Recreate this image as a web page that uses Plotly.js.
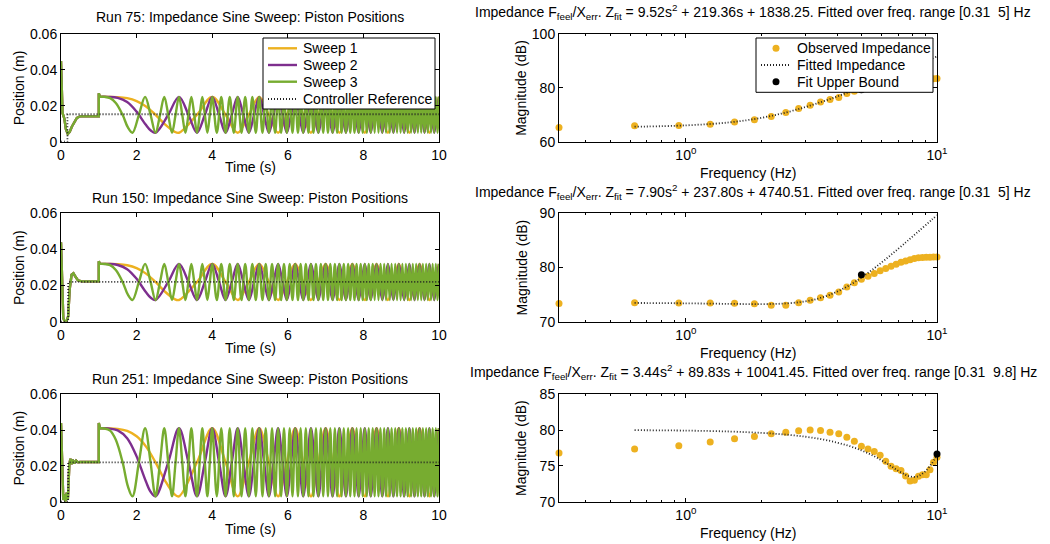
<!DOCTYPE html>
<html><head><meta charset="utf-8">
<script src="https://cdn.plot.ly/plotly-3.0.1.min.js"></script>
<style>html,body{margin:0;padding:0;background:#fff}#chart{width:1050px;height:544px}</style>
</head><body><div id="chart"></div>
<script>
// ---------------- DATA ----------------
const runNames = ['Run 75', 'Run 150', 'Run 251'];
const sweepNames = ['Sweep 1', 'Sweep 2', 'Sweep 3'];
const refName = 'Controller Reference';
const impNames = ['Observed Impedance', 'Fitted Impedance', 'Fit Upper Bound'];
const timeTicks = [0, 2, 4, 6, 8, 10];
const posTicks = [0, 0.02, 0.04, 0.06];
const posTickText = ['0', '0.02', '0.04', '0.06'];

// extremum times of each sweep (alternating peak / trough, starting at a peak)
const sweep1ExtT = [1.03, 3.121, 4.0, 4.674, 5.243, 5.743, 6.196, 6.612, 7.0, 7.364, 7.708, 8.036, 8.348, 8.649, 8.937, 9.216, 9.485, 9.746, 10.0];
// mid-level crossing times
const sweep1CrossT = [2.5, 3.598, 4.354, 4.969, 5.5, 5.975, 6.408, 6.809, 7.185, 7.538, 7.874, 8.194, 8.5, 8.794, 9.078, 9.352, 9.617, 9.874];
// extra points on the slow first half-cycle: time and level (+1 peak, -1 trough)
const sweep1EarlyT = [1.25, 1.5, 1.75, 2.0, 2.25, 2.75, 3.0];
const sweep1EarlyF = [0.999, 0.985, 0.924, 0.766, 0.462, -0.535, -0.94];

const sweep2ExtT = [1.03, 2.5, 3.121, 3.598, 4.0, 4.354, 4.674, 4.969, 5.243, 5.5, 5.743, 5.975, 6.196, 6.408, 6.612, 6.809, 7.0, 7.185, 7.364, 7.538, 7.708, 7.874, 8.036, 8.194, 8.348, 8.5, 8.649, 8.794, 8.937, 9.078, 9.216, 9.352, 9.485, 9.617, 9.746, 9.874, 10.0];
const sweep2CrossT = [2.061, 2.837, 3.372, 3.806, 4.182, 4.518, 4.824, 5.108, 5.373, 5.623, 5.861, 6.087, 6.303, 6.511, 6.712, 6.906, 7.093, 7.275, 7.452, 7.624, 7.792, 7.955, 8.115, 8.272, 8.425, 8.575, 8.722, 8.866, 9.008, 9.147, 9.284, 9.419, 9.551, 9.682, 9.811, 9.937];
const sweep2EarlyT = [1.25, 1.5, 1.75, 2.0, 2.25, 2.375];
const sweep2EarlyF = [0.996, 0.94, 0.707, 0.175, -0.573, -0.875];

const sweep3ExtT = [1.03, 1.89, 2.225, 2.5, 2.732, 2.937, 3.121, 3.291, 3.449, 3.598, 3.739, 3.872, 4.0, 4.122, 4.24, 4.354, 4.464, 4.571, 4.674, 4.775, 4.873, 4.969, 5.062, 5.153, 5.243, 5.33, 5.416, 5.5, 5.583, 5.664, 5.743, 5.822, 5.899, 5.975, 6.05, 6.124, 6.196, 6.268, 6.339, 6.408, 6.477, 6.545, 6.612, 6.679, 6.745, 6.809, 6.874, 6.937, 7.0, 7.062, 7.124, 7.185, 7.245, 7.305, 7.364, 7.423, 7.481, 7.538, 7.596, 7.652, 7.708, 7.764, 7.819, 7.874, 7.928, 7.982, 8.036, 8.089, 8.141, 8.194, 8.246, 8.297, 8.348, 8.399, 8.45, 8.5, 8.55, 8.599, 8.649, 8.697, 8.746, 8.794, 8.842, 8.89, 8.937, 8.984, 9.031, 9.078, 9.124, 9.17, 9.216, 9.261, 9.307, 9.352, 9.396, 9.441, 9.485, 9.529, 9.573, 9.617, 9.66, 9.703, 9.746, 9.789, 9.832, 9.874, 9.916, 9.958, 10.0];
const sweep3CrossT = [1.63, 2.061, 2.369, 2.62, 2.837, 3.031, 3.208, 3.372, 3.525, 3.669, 3.806, 3.937];
const sweep3EarlyT = [1.15, 1.3, 1.45, 1.77];
const sweep3EarlyF = [0.996, 0.93, 0.661, -0.707];

// sweep levels per run
const sweepPeak = [0.025, 0.032, 0.041];
const sweepTrough = [0.005, 0.012, 0.003];

// start-up transients (shared by the three sweeps of a run)
const run75TransT = [0, 0.02, 0.04, 0.09, 0.13, 0.18, 0.23, 0.29, 0.35, 0.42, 0.5, 1.0, 1.0, 1.03];
const run75TransY = [0.045, 0.03, 0.016, 0.0128, 0.007, 0.0043, 0.0055, 0.0085, 0.011, 0.0133, 0.0141, 0.0141, 0.027, 0.025];
const run150TransT = [0, 0.03, 0.06, 0.1, 0.15, 0.19, 0.23, 0.28, 0.33, 0.38, 0.45, 0.55, 1.0, 1.0, 1.03];
const run150TransY = [0.044, 0.025, 0.002, 0.0, 0.0005, 0.003, 0.018, 0.026, 0.0268, 0.025, 0.0228, 0.0223, 0.0223, 0.0335, 0.032];
const run251TransT = [0, 0.03, 0.06, 0.09, 0.12, 0.15, 0.18, 0.2, 0.22, 0.25, 0.28, 0.31, 0.35, 0.4, 0.45, 0.5, 1.0, 1.0, 1.03];
const run251TransY = [0.044, 0.02, 0.001, 0.004, 0.0, 0.005, 0.001, 0.01, 0.021, 0.024, 0.021, 0.0235, 0.0215, 0.023, 0.022, 0.0222, 0.0222, 0.044, 0.041];

// controller reference
const run75RefT = [0, 0.17, 0.17, 10];
const run75RefY = [0, 0, 0.0153, 0.0153];
const run150RefT = [0, 0.19, 0.19, 10];
const run150RefY = [0, 0, 0.022, 0.022];
const run251RefT = [0, 0.19, 0.19, 10];
const run251RefY = [0, 0, 0.022, 0.022];

// impedance
const freqHz = [0.3125, 0.625, 0.9375, 1.25, 1.5625, 1.875, 2.1875, 2.5, 2.8125, 3.125, 3.4375, 3.75, 4.0625, 4.375, 4.6875, 5, 5.3125, 5.625, 5.9375, 6.25, 6.5625, 6.875, 7.1875, 7.5, 7.8125, 8.125, 8.4375, 8.75, 9.0625, 9.375, 9.6875, 10];
const obs75 = [65.27, 65.9, 66.0, 66.5, 67.3, 68.15, 69.4, 70.8, 72.3, 73.5, 74.7, 75.7, 76.4, 77.9, 78.7, 79.4, 80.0, 80.5, 81.0, 81.4, 81.7, 82.0, 82.3, 82.5, 82.7, 82.9, 83.0, 83.1, 83.2, 83.3, 83.4, 83.45];
const obs150 = [73.35, 73.5, 73.45, 73.45, 73.4, 73.3, 73.05, 73.05, 73.5, 73.95, 74.4, 74.9, 75.5, 76.4, 77.2, 77.85, 78.4, 78.9, 79.4, 79.8, 80.25, 80.6, 80.95, 81.2, 81.45, 81.65, 81.8, 81.85, 81.9, 81.9, 81.92, 81.95];
const obs251 = [76.8, 77.35, 77.8, 78.35, 78.8, 79.1, 79.5, 79.7, 79.9, 80.0, 79.95, 79.7, 79.5, 79.0, 78.45, 77.75, 77.35, 77.0, 76.5, 75.65, 74.95, 74.6, 74.35, 73.6, 72.9, 73.0, 73.55, 73.75, 73.75, 74.45, 75.5, 76.2];
const fitFreqHz = [0.625, 1, 1.5, 2, 2.5, 3, 3.5, 4, 4.5, 5, 5.5, 6, 6.5, 7, 7.5, 7.75, 8, 8.25, 8.5, 9, 9.5, 10];
const fit75 = [65.57, 66.06, 67.21, 68.87, 70.84, 72.90, 74.90, 76.80, 78.56, 80.20, 81.71, 83.12, 84.43, 85.66, 86.81, 87.36, 87.89, 88.41, 88.91, 89.88, 90.79, 91.67];
const fit150 = [73.46, 73.39, 73.29, 73.25, 73.37, 73.77, 74.50, 75.54, 76.78, 78.14, 79.52, 80.88, 82.19, 83.43, 84.62, 85.18, 85.73, 86.27, 86.79, 87.80, 88.75, 89.65];
const fit251 = [79.99, 79.93, 79.80, 79.61, 79.37, 79.07, 78.70, 78.26, 77.75, 77.17, 76.52, 75.80, 75.05, 74.33, 73.75, 73.56, 73.47, 73.49, 73.63, 74.27, 75.27, 76.47];
const upperBoundHz = [5, 5, 10];
const upperBoundDb = [79.3, 78.65, 76.65];
const impTitles = [
  'Impedance F<sub>feel</sub>/X<sub>err</sub>. Z<sub>fit</sub> = 9.52s<sup>2</sup> + 219.36s + 1838.25. Fitted over freq. range [0.31&nbsp; 5] Hz',
  'Impedance F<sub>feel</sub>/X<sub>err</sub>. Z<sub>fit</sub> = 7.90s<sup>2</sup> + 237.80s + 4740.51. Fitted over freq. range [0.31&nbsp; 5] Hz',
  'Impedance F<sub>feel</sub>/X<sub>err</sub>. Z<sub>fit</sub> = 3.44s<sup>2</sup> + 89.83s + 10041.45. Fitted over freq. range [0.31&nbsp; 9.8] Hz'
];
const freqTicks = [1, 10];
const freqTickText = ['10<sup>0</sup>', '10<sup>1</sup>'];
const freqMinorTicks = [0.4, 0.5, 0.6, 0.7, 0.8, 0.9, 2, 3, 4, 5, 6, 7, 8, 9];
const magTicks = [[60, 80, 100], [70, 80, 90], [70, 75, 80, 85]];
const magRanges = [[60, 100], [70, 90], [70, 85]];

// ---------------- STYLE / LAYOUT ----------------
const W = 1050, H = 544;
const FONT = 'Liberation Sans, Arial, Helvetica, sans-serif';
const sweepColors = ['#EDB120', '#7E2F8E', '#77AC30'];
const sweepWidth = 2.4;
const dotColor = '#EDB120';
const dotLine = { color: '#222', width: 1.8, dash: '1px,2px' };
const rowsPx = [[34, 141.7], [213.3, 321.7], [394.3, 501.7]];
const leftPx = [61, 439], rightPx = [559, 937];
const py = p => 1 - p / H;
const px = p => p / W;

const sweepExt = [sweep1ExtT, sweep2ExtT, sweep3ExtT];
const sweepCross = [sweep1CrossT, sweep2CrossT, sweep3CrossT];
const sweepEarlyT = [sweep1EarlyT, sweep2EarlyT, sweep3EarlyT];
const sweepEarlyF = [sweep1EarlyF, sweep2EarlyF, sweep3EarlyF];
const transT = [run75TransT, run150TransT, run251TransT];
const transY = [run75TransY, run150TransY, run251TransY];
const refT = [run75RefT, run150RefT, run251RefT];
const refY = [run75RefY, run150RefY, run251RefY];
const obs = [obs75, obs150, obs251];
const fits = [fit75, fit150, fit251];

function sweepPoints(s, r) {
  const mid = (sweepPeak[r] + sweepTrough[r]) / 2, amp = (sweepPeak[r] - sweepTrough[r]) / 2;
  const pts = sweepExt[s].map((t, i) => [t, i % 2 === 0 ? 1 : -1])
    .concat(sweepCross[s].map(t => [t, 0]))
    .concat(sweepEarlyT[s].map((t, i) => [t, sweepEarlyF[s][i]]));
  pts.sort((a, b) => a[0] - b[0]);
  return { x: pts.map(p => p[0]), y: pts.map(p => mid + p[1] * amp) };
}

const traces = [];
const layout = {
  width: W, height: H, margin: { l: 0, r: 0, t: 0, b: 0 },
  paper_bgcolor: '#fff', plot_bgcolor: '#fff',
  font: { family: FONT, size: 14, color: '#000' },
  showlegend: false,
  annotations: [], shapes: []
};
const axBase = { showline: true, linecolor: '#000', linewidth: 1, mirror: 'ticks', ticks: 'inside', ticklen: 4,
  tickcolor: '#000', tickwidth: 1, showgrid: false, zeroline: false, fixedrange: true,
  tickfont: { family: FONT, size: 14, color: '#000' } };
const ann = layout.annotations, shp = layout.shapes;

for (let r = 0; r < 3; r++) {
  const lx = 'x' + (2 * r + 1), ly = 'y' + (2 * r + 1);
  const rx = 'x' + (2 * r + 2), ry = 'y' + (2 * r + 2);
  const lxk = r === 0 ? 'xaxis' : 'xaxis' + (2 * r + 1);
  const lyk = r === 0 ? 'yaxis' : 'yaxis' + (2 * r + 1);
  const rxk = 'xaxis' + (2 * r + 2), ryk = 'yaxis' + (2 * r + 2);
  const xa = r === 0 ? 'x' : lx, ya = r === 0 ? 'y' : ly;
  const yDom = [py(rowsPx[r][1]), py(rowsPx[r][0])];

  layout[lxk] = Object.assign({}, axBase, { domain: [px(leftPx[0]), px(leftPx[1])], range: [0, 10], tickvals: timeTicks, ticktext: timeTicks.map(String), anchor: ya });
  layout[lyk] = Object.assign({}, axBase, { domain: yDom, range: [0, 0.06], tickvals: posTicks, ticktext: posTickText, anchor: xa });
  layout[rxk] = Object.assign({}, axBase, { domain: [px(rightPx[0]), px(rightPx[1])], type: 'log', range: [Math.log10(freqHz[0]), 1],
    tickvals: freqTicks, ticktext: freqTickText, anchor: ry,
    minor: { tickmode: 'array', tickvals: freqMinorTicks, ticks: 'inside', ticklen: 2, tickcolor: '#000', showgrid: false } });
  layout[ryk] = Object.assign({}, axBase, { domain: yDom, range: magRanges[r], tickvals: magTicks[r], ticktext: magTicks[r].map(String), anchor: rx });

  for (let s = 0; s < 3; s++) {
    traces.push({ x: transT[r], y: transY[r], xaxis: xa, yaxis: ya, mode: 'lines', type: 'scatter',
      line: { color: sweepColors[s], width: sweepWidth }, name: sweepNames[s], hoverinfo: 'skip' });
    const p = sweepPoints(s, r);
    traces.push({ x: p.x, y: p.y, xaxis: xa, yaxis: ya, mode: 'lines', type: 'scatter', name: sweepNames[s],
      line: { color: sweepColors[s], width: sweepWidth, shape: 'spline', smoothing: 1, simplify: false } });
  }
  traces.push({ x: refT[r], y: refY[r], xaxis: xa, yaxis: ya, mode: 'lines', type: 'scatter', name: refName,
    line: Object.assign({}, dotLine) });

  traces.push({ x: freqHz, y: obs[r], xaxis: rx, yaxis: ry, mode: 'markers', type: 'scatter', name: impNames[0],
    marker: { color: dotColor, size: 7, line: { width: 0 } }, cliponaxis: false });
  traces.push({ x: fitFreqHz, y: fits[r], xaxis: rx, yaxis: ry, mode: 'lines', type: 'scatter', name: impNames[1],
    line: Object.assign({ shape: 'spline', simplify: false }, dotLine) });
  traces.push({ x: [upperBoundHz[r]], y: [upperBoundDb[r]], xaxis: rx, yaxis: ry, mode: 'markers', type: 'scatter', name: impNames[2],
    marker: { color: '#000', size: 7, line: { width: 0 } }, cliponaxis: false });

  const leftTitleY = [17, 198, 379][r];
  const rightTitleY = [12, 192, 372][r];
  ann.push({ text: runNames[r] + ': Impedance Sine Sweep: Piston Positions', xref: 'paper', yref: 'paper', x: px(250), y: py(leftTitleY),
    xanchor: 'center', yanchor: 'middle', showarrow: false });
  ann.push({ text: impTitles[r], xref: 'paper', yref: 'paper', x: px(753), y: py(rightTitleY),
    xanchor: 'center', yanchor: 'middle', showarrow: false });
  ann.push({ text: 'Time (s)', xref: 'paper', yref: 'paper', x: px(250), y: py([167.5, 347.5, 529][r]),
    xanchor: 'center', yanchor: 'middle', showarrow: false });
  ann.push({ text: 'Frequency (Hz)', xref: 'paper', yref: 'paper', x: px(748), y: py([172.5, 352.5, 532.5][r]),
    xanchor: 'center', yanchor: 'middle', showarrow: false });
  const midY = (rowsPx[r][0] + rowsPx[r][1]) / 2;
  ann.push({ text: 'Position (m)', xref: 'paper', yref: 'paper', x: px(18.5), y: py(midY), textangle: -90,
    xanchor: 'center', yanchor: 'middle', showarrow: false });
  ann.push({ text: 'Magnitude (dB)', xref: 'paper', yref: 'paper', x: px(521), y: py(midY), textangle: -90,
    xanchor: 'center', yanchor: 'middle', showarrow: false });
}

// ---- legends (drawn as boxed keys on top of the first row) ----
const legRowsPx = [48.3, 65, 81.7, 99];
// left legend
shp.push({ type: 'rect', xref: 'paper', yref: 'paper', x0: px(263), x1: px(435), y0: py(109), y1: py(38),
  fillcolor: '#fff', line: { color: '#000', width: 1 }, layer: 'above' });
const leftLegNames = sweepNames.concat([refName]);
leftLegNames.forEach((nm, i) => {
  const yc = py(legRowsPx[i]);
  const ln = i < 3 ? { color: sweepColors[i], width: sweepWidth } : Object.assign({}, dotLine);
  shp.push({ type: 'line', xref: 'paper', yref: 'paper', x0: px(268), x1: px(297), y0: yc, y1: yc, line: ln, layer: 'above' });
  ann.push({ text: nm, xref: 'paper', yref: 'paper', x: px(301), y: yc, xanchor: 'left', yanchor: 'middle', showarrow: false });
});
// right legend
shp.push({ type: 'rect', xref: 'paper', yref: 'paper', x0: px(756), x1: px(933), y0: py(92.3), y1: py(38),
  fillcolor: '#fff', line: { color: '#000', width: 1 }, layer: 'above' });
impNames.forEach((nm, i) => {
  const yc = legRowsPx[i];
  if (i === 1) {
    shp.push({ type: 'line', xref: 'paper', yref: 'paper', x0: px(761), x1: px(791), y0: py(yc), y1: py(yc), line: Object.assign({}, dotLine), layer: 'above' });
  } else {
    const c = i === 0 ? dotColor : '#000';
    shp.push({ type: 'circle', xref: 'paper', yref: 'paper', x0: px(776 - 3.5), x1: px(776 + 3.5), y0: py(yc + 3.5), y1: py(yc - 3.5),
      fillcolor: c, line: { width: 0 }, layer: 'above' });
  }
  ann.push({ text: nm, xref: 'paper', yref: 'paper', x: px(795), y: py(yc), xanchor: 'left', yanchor: 'middle', showarrow: false });
});

Plotly.newPlot('chart', traces, layout, { staticPlot: true, displayModeBar: false });
</script></body></html>
